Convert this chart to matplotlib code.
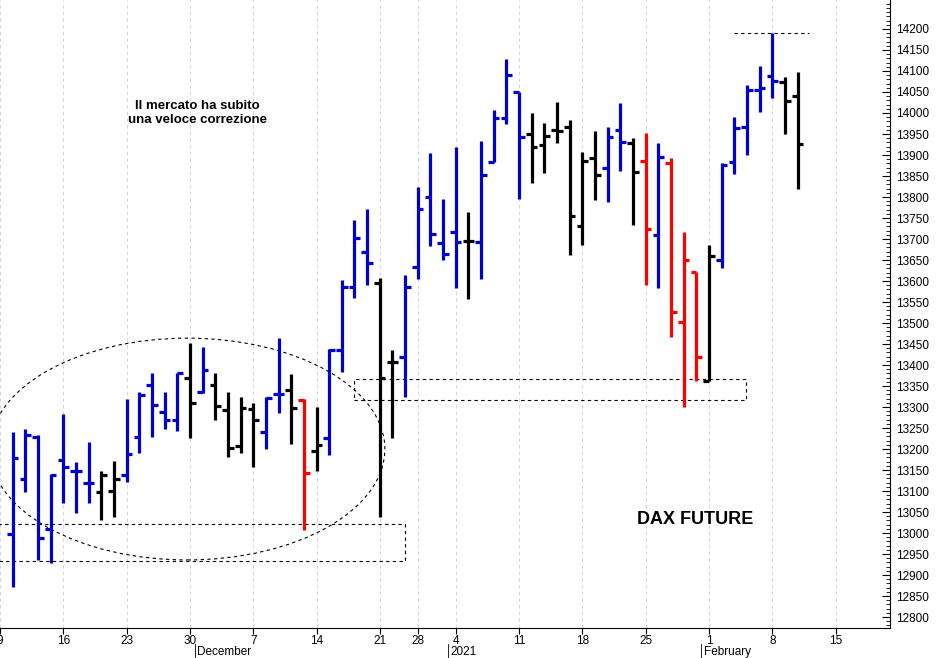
import matplotlib
matplotlib.use("Agg")
import matplotlib.pyplot as plt
from matplotlib.patches import Ellipse, Rectangle
from matplotlib.ticker import MultipleLocator

# trading-day index 1 = 10 Nov 2020 ... 63 = 10 Feb 2021
opens = [12998,13129,13229,13010,13174,13148,13119,13098,13100,13138,13229,13352,13288,13269,13369,13336,13352,13293,13207,13295,13240,13331,13340,13317,13195,13226,
         13436,13586,13669,13595,13407,13419,13633,13800,13690,13717,13695,13693,13883,13988,14050,13950,13924,13960,13967,13731,13893,13869,13960,13929,13886,13710,13881,13502,13621,13362,13650,13883,13967,14055,14088,14074,14040]
highs = [13240,13248,13233,13140,13283,13169,13217,13148,13171,13319,13336,13381,13336,13381,13452,13443,13381,13336,13324,13310,13324,13464,13379,13319,13300,13438,
         13602,13745,13771,13607,13436,13614,13824,13905,13795,13919,13764,13933,14007,14129,14050,14000,13976,14026,13983,13907,13957,13967,14024,13940,13952,13929,13893,13717,13621,13686,13881,13990,14067,14112,14190,14086,14098]
lows  = [12871,13098,12936,12929,13071,13048,13071,13031,13038,13121,13190,13229,13248,13243,13226,13333,13269,13181,13190,13157,13200,13286,13212,13007,13148,13186,
         13383,13560,13590,13038,13226,13324,13605,13683,13650,13583,13557,13605,13883,13974,13795,13833,13857,13929,13662,13686,13793,13788,13862,13733,13590,13583,13467,13300,13362,13362,13631,13855,13900,14002,14036,13950,13819]
closes= [13179,13233,12988,13138,13157,13148,13119,13138,13129,13188,13329,13305,13269,13381,13310,13388,13302,13202,13298,13269,13321,13331,13298,13143,13210,13436,
         13586,13702,13643,13369,13407,13586,13771,13712,13664,13693,13695,13852,13988,14090,13943,13919,13945,13957,13755,13886,13852,13943,13931,13860,13724,13895,13526,13650,13419,13660,13876,13964,14055,14060,14076,14029,13926]
colors = list("bbbbbbbkkbbbbbkbkkkkbbkrk" + "bbbbkkbbbbbkbbbbkkkkkkbbkrbrrrkbbbbbkk")
tick_idx = [0,5,10,15,20,25,30,33,36,41,46,51,56,61,66]
tick_lab = ["9","16","23","30","7","14","21","28","4","11","18","25","1","8","15"]
months = [(16,"December"),(36,"2021"),(56,"February")]

cmap = {"b": "#0000d0", "k": "black", "r": "#ff0000"}

fig = plt.figure(figsize=(9.41, 6.58), dpi=100)
ax = fig.add_axes([0, 30/658, 890/941, 628/658])
ax.set_xlim(0.53, 70.3)
ax.set_ylim(12774, 14269)
ax.spines["left"].set_visible(False)
ax.spines["top"].set_visible(False)

for i in range(len(opens)):
    x = i + 1
    c = cmap[colors[i]]
    ax.vlines(x, lows[i], highs[i], color=c, lw=2.3)
    ax.hlines(opens[i], x - 0.45, x, color=c, lw=2.3)
    ax.hlines(closes[i], x, x + 0.45, color=c, lw=2.3)

for t in tick_idx:
    ax.axvline(t, color="#cccccc", lw=0.6, ls=(0, (4, 4)), zorder=0)

ax.add_patch(Ellipse((14.8, 13200), 31.2, 528, fill=False, ls=(0, (3, 3)), lw=0.8, color="black"))
ax.add_patch(Rectangle((-1, 12933), 33.0, 88, fill=False, ls=(0, (3, 3)), lw=0.8, color="black"))
ax.add_patch(Rectangle((28.0, 13317), 30.9, 50, fill=False, ls=(0, (3, 3)), lw=0.8, color="black"))
ax.hlines(14190, 58.0, 63.9, colors="black", ls=(0, (3, 3)), lw=0.8)

ax.text(15.6, 14000, "Il mercato ha subito\nuna veloce correzione", ha="center", va="center",
        fontsize=9.5, fontweight="bold", family="Liberation Sans")
ax.text(54.9, 13032, "DAX FUTURE", ha="center", va="center", fontsize=13, fontweight="bold",
        family="Liberation Sans")

ax.yaxis.tick_right()
ax.set_yticks(range(12800, 14201, 50))
ax.yaxis.set_minor_locator(MultipleLocator(10))
ax.tick_params(axis="y", which="major", length=6, labelsize=8.5, direction="in", pad=4)
ax.tick_params(axis="y", which="minor", length=3, direction="in")
for lab in ax.get_yticklabels():
    lab.set_family("Liberation Sans")

ax.set_xticks(tick_idx)
ax.set_xticklabels(tick_lab, fontsize=8.5, family="Liberation Sans")
ax.tick_params(axis="x", length=4, pad=1)
for t, m in months:
    ax.text(t - 0.4, -0.038, m, transform=ax.get_xaxis_transform(), ha="left", va="center",
            fontsize=8.5, family="Liberation Sans")
    ax.plot([t - 0.6, t - 0.6], [-0.026, -0.05], transform=ax.get_xaxis_transform(),
            color="black", lw=0.6, clip_on=False)

fig.savefig("out.png", dpi=100)
